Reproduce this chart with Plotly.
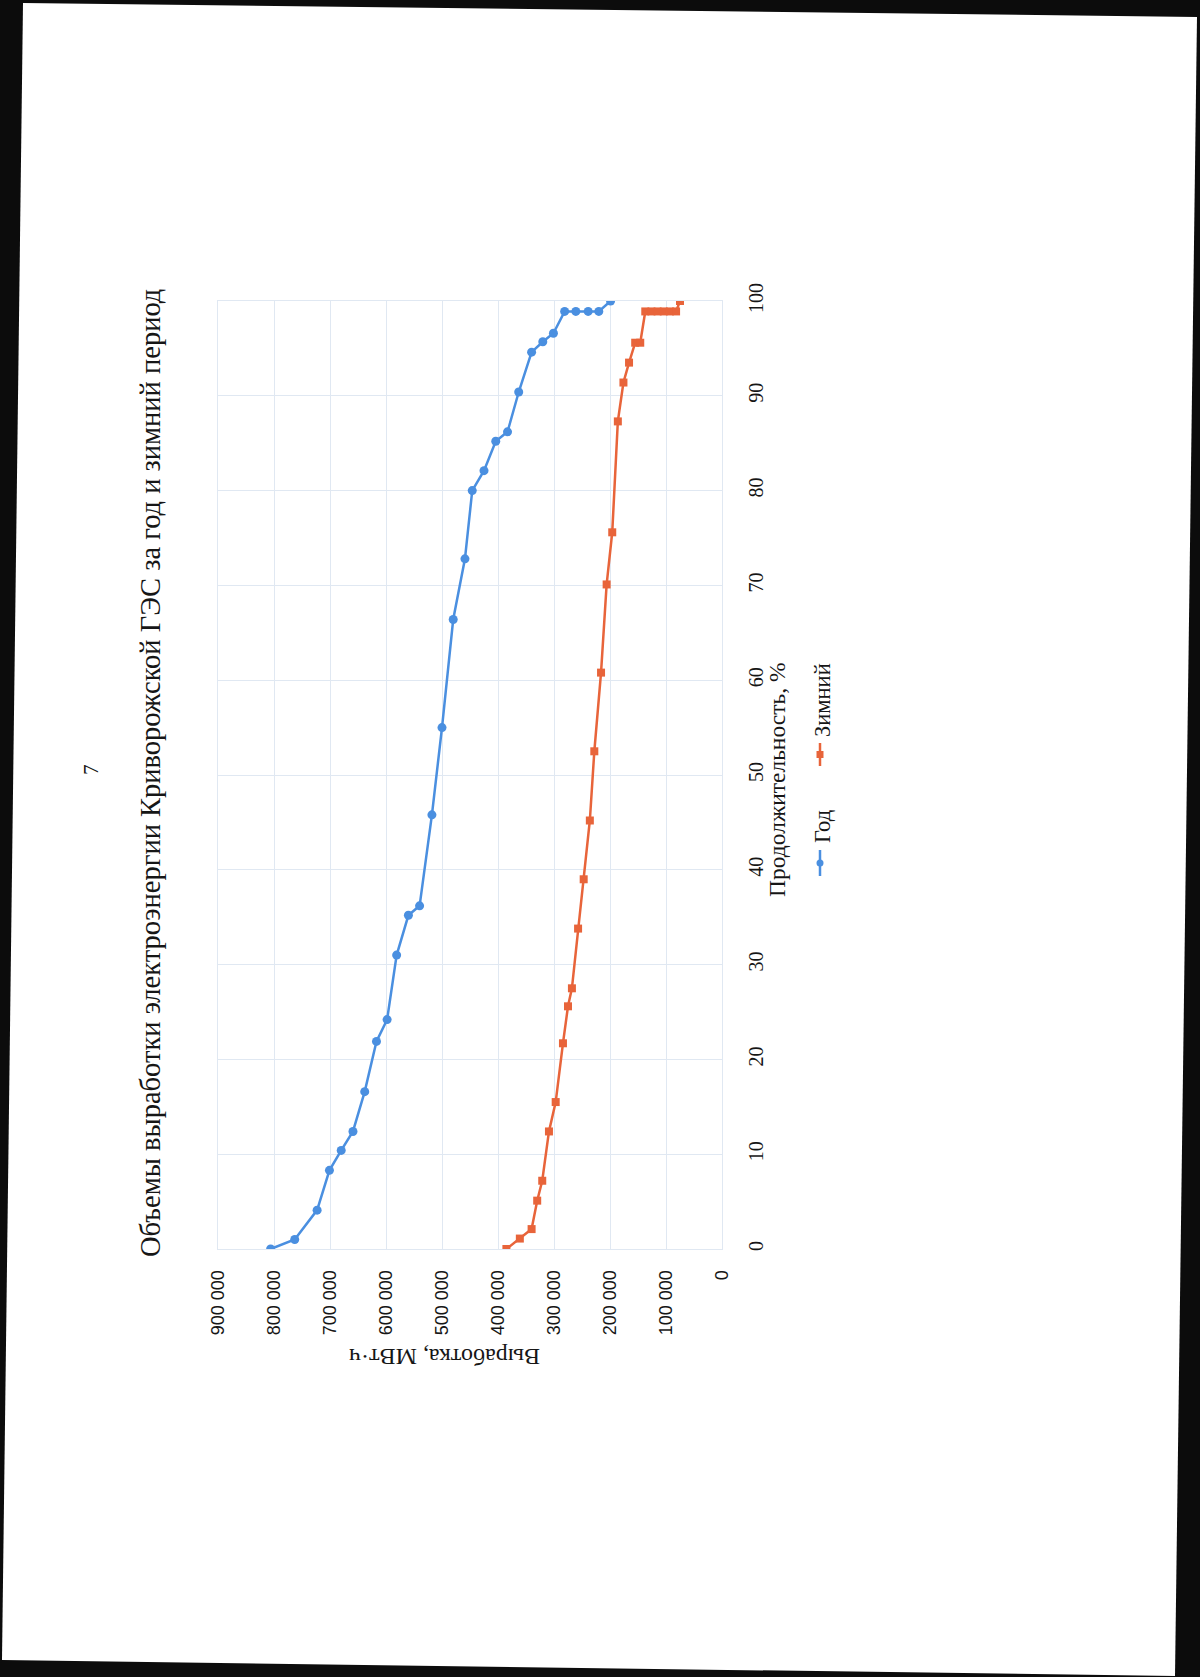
import plotly.graph_objects as go

# ---- data ----
god_duration = [0, 1.0, 4.1, 8.3, 10.4, 12.4, 16.6, 21.9, 24.2, 31.0, 35.2, 36.2, 45.8, 55.0,
                66.4, 72.8, 80.0, 82.1, 85.2, 86.2, 90.4, 94.6, 95.7, 96.6, 98.9, 98.9, 98.9, 98.9, 100]
god_values = [806000, 763000, 723000, 701000, 680000, 659000, 638000, 617000, 598000, 581000,
              560000, 540000, 518000, 500000, 480000, 459000, 446000, 425000, 404000, 383000,
              363000, 340000, 320000, 301000, 281000, 261000, 239000, 220000, 199000]

zim_duration = [0, 1.1, 2.1, 5.1, 7.2, 12.4, 15.5, 21.7, 25.6, 27.5, 33.8, 39.0, 45.2, 52.5,
                60.8, 70.1, 75.6, 87.3, 91.4, 93.5, 95.6, 95.6, 98.9, 98.9, 98.9, 98.9, 98.9, 98.9, 100]
zim_values = [385000, 361000, 340000, 330000, 321000, 309000, 297000, 284000, 275000, 268000,
              257000, 247000, 236000, 228000, 216000, 206000, 196000, 186000, 176000, 166000,
              155000, 146000, 137000, 126000, 115000, 104000, 93000, 82000, 75000]

series_names = ["Год", "Зимний"]
title_text = "Объемы выработки электроэнергии Криворожской ГЭС за год и зимний период"
value_title = "Выработка, МВт·ч"
duration_title = "Продолжительность, %"
page_number = "7"

BLUE = "#4a8fe0"
RED = "#e8643a"
GRID = "#e0e8f2"
TXT = "#161616"

W, H = 1200, 1677
L, R, T, B = 218, 722, 301, 1249  # plot box in pixels


def px(x):
    return (x - L) / (R - L)


def py(y):
    return (B - y) / (B - T)


fig = go.Figure()
fig.add_trace(go.Scatter(x=god_values, y=god_duration, mode="lines+markers", name=series_names[0],
                         line=dict(color=BLUE, width=2.5),
                         marker=dict(symbol="circle", size=9, color=BLUE), showlegend=False))
fig.add_trace(go.Scatter(x=zim_values, y=zim_duration, mode="lines+markers", name=series_names[1],
                         line=dict(color=RED, width=2.5),
                         marker=dict(symbol="square", size=8, color=RED), showlegend=False))

shapes = []
# scanned page on black background
page = [(23, 3), (1197, 17), (1175, 1676), (2, 1660)]
path = "M " + " L ".join(f"{px(a):.5f},{py(b):.5f}" for a, b in page) + " Z"
shapes.append(dict(type="path", xref="paper", yref="paper", path=path,
                   fillcolor="white", line=dict(width=0), layer="below"))

# manual rotated legend
leg_x = 820
for (y0, y1, color, sym) in [(850, 876, BLUE, "circle"), (743, 766, RED, "square")]:
    shapes.append(dict(type="line", xref="paper", yref="paper",
                       x0=px(leg_x), x1=px(leg_x), y0=py(y0), y1=py(y1),
                       line=dict(color=color, width=2.5)))
    cy = (y0 + y1) / 2
    kind = "circle" if sym == "circle" else "rect"
    shapes.append(dict(type=kind, xref="paper", yref="paper",
                       x0=px(leg_x - 3.5), x1=px(leg_x + 3.5), y0=py(cy - 3.5), y1=py(cy + 3.5),
                       fillcolor=color, line=dict(width=0)))

serif = "Liberation Serif"
annotations = [
    dict(text=title_text, x=px(150), y=py(773), xref="paper", yref="paper", showarrow=False,
         textangle=-90, font=dict(family=serif, size=28.5, color=TXT), xanchor="center", yanchor="middle"),
    dict(text=page_number, x=px(91), y=py(770), xref="paper", yref="paper", showarrow=False,
         textangle=-90, font=dict(family=serif, size=21, color=TXT), xanchor="center", yanchor="middle"),
    dict(text=value_title, x=px(445), y=py(1357), xref="paper", yref="paper", showarrow=False,
         textangle=180, font=dict(family=serif, size=24, color=TXT), xanchor="center", yanchor="middle"),
    dict(text=duration_title, x=px(777), y=py(780), xref="paper", yref="paper", showarrow=False,
         textangle=-90, font=dict(family=serif, size=23.5, color=TXT), xanchor="center", yanchor="middle"),
    dict(text=series_names[0], x=px(822), y=py(827), xref="paper", yref="paper", showarrow=False,
         textangle=-90, font=dict(family=serif, size=22.5, color=TXT), xanchor="center", yanchor="middle"),
    dict(text=series_names[1], x=px(822), y=py(700), xref="paper", yref="paper", showarrow=False,
         textangle=-90, font=dict(family=serif, size=22.5, color=TXT), xanchor="center", yanchor="middle"),
]

fig.update_layout(
    width=W, height=H,
    margin=dict(l=L, r=W - R, t=T, b=H - B, pad=0),
    paper_bgcolor="#0c0c0c", plot_bgcolor="rgba(0,0,0,0)",
    separators=". ",
    shapes=shapes, annotations=annotations,
    xaxis=dict(range=[900000, 0], dtick=100000, tick0=0, tickformat=",d", side="bottom",
               tickangle=-90, showgrid=True, gridcolor=GRID, gridwidth=1,
               showline=True, linecolor=GRID, mirror=True, zeroline=False, ticks="",
               ticklabelstandoff=13,
               tickfont=dict(family="Liberation Sans", size=18, color=TXT)),
    yaxis=dict(range=[0, 100], dtick=10, tick0=0, side="right", tickangle=-90,
               showgrid=True, gridcolor=GRID, gridwidth=1,
               showline=True, linecolor=GRID, mirror=True, zeroline=False, ticks="",
               ticklabelstandoff=16,
               tickfont=dict(family=serif, size=20, color=TXT)),
)

fig.write_html("out.html", config={"displayModeBar": False},
               post_script="document.body.style.margin='0';")
